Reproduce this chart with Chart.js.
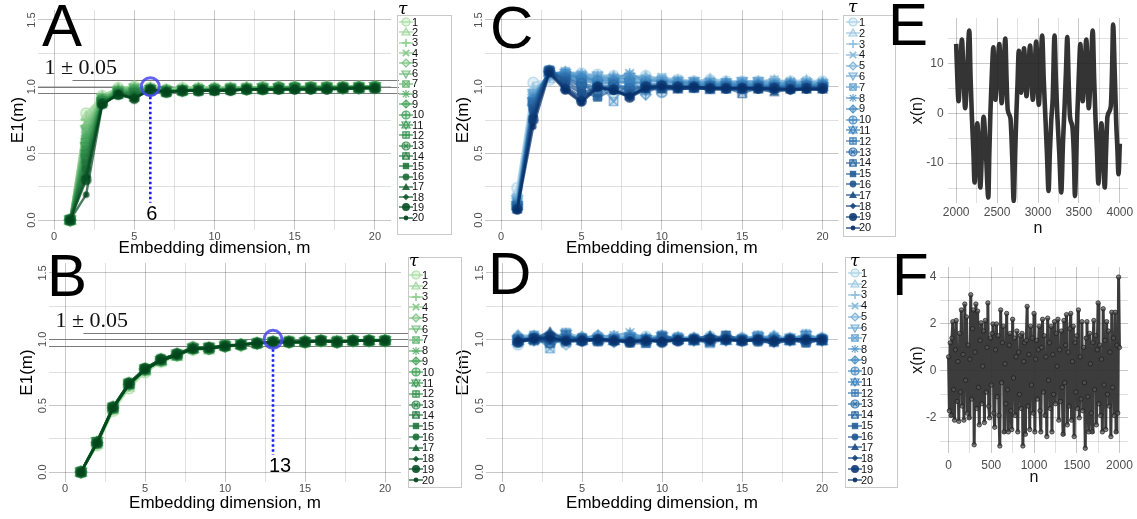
<!DOCTYPE html>
<html>
<head>
<meta charset="utf-8">
<title>E1 / E2 against embedding dimension</title>
<script src="https://cdn.jsdelivr.net/npm/chart.js@4.4.1/dist/chart.umd.min.js"></script>
<style>
  html, body { margin: 0; padding: 0; background: #fff; }
  body { position: relative; width: 1137px; height: 519px; overflow: hidden; font-family: "Liberation Sans", Arial, sans-serif; }
  canvas { position: absolute; }
  .tag { position: absolute; font-size: 60px; line-height: 60px; color: #000; z-index: 6; }
  .legend { position: absolute; border: 1px solid #c9c9c9; background: transparent; box-sizing: border-box; z-index: 3; }
  .legtitle { position: absolute; font-family: "DejaVu Serif", serif; font-style: italic; font-size: 17px; line-height: 17px; z-index: 4; }
  .legrow { position: absolute; font-size: 11px; line-height: 11px; color: #111; z-index: 4; }
  .legkey { z-index: 4; }
</style>
</head>
<body>
<canvas id="chartA" width="400" height="262" style="left:0;top:0"></canvas>
<canvas id="chartB" width="410" height="269" style="left:0;top:250px"></canvas>
<canvas id="chartC" width="395" height="262" style="left:450px;top:0"></canvas>
<canvas id="chartD" width="395" height="269" style="left:450px;top:250px"></canvas>
<canvas id="chartE" width="250" height="245" style="left:895px;top:0"></canvas>
<canvas id="chartF" width="250" height="269" style="left:895px;top:250px"></canvas>
<div class="tag" style="left:42px;top:-4px">A</div>
<div class="tag" style="left:47px;top:246px">B</div>
<div class="tag" style="left:490px;top:-2px">C</div>
<div class="tag" style="left:488px;top:244px">D</div>
<div class="tag" style="left:888px;top:-5px">E</div>
<div class="tag" style="left:892px;top:245px">F</div>
<script>
// embedding dimensions m and delays tau
const dims = [1,2,3,4,5,6,7,8,9,10,11,12,13,14,15,16,17,18,19,20];
const taus = [1,2,3,4,5,6,7,8,9,10,11,12,13,14,15,16,17,18,19,20];
const yTickLabels = [0, 0.5, 1.0, 1.5];
const eYLabels = [-10, 0, 10];
const fYLabels = [-2, 0, 2, 4];
const bandHi = 1.05, bandMid = 1.0, bandLo = 0.95;
const markA = 6, markB = 13;

// panel A: E1(m), one row per tau
const e1A = [
  [0.00,0.80,0.93,0.99,1.00,0.99,0.98,0.99,0.99,0.99,0.99,0.99,1.00,1.00,1.00,1.00,1.00,1.00,1.00,1.00],
  [0.00,0.78,0.93,0.99,1.00,0.99,0.98,0.99,0.99,0.99,0.99,1.00,0.99,1.00,1.00,1.00,1.00,1.00,1.00,1.00],
  [0.00,0.75,0.92,0.98,0.99,0.99,0.98,0.98,0.99,0.99,0.99,0.99,0.99,1.00,0.99,1.00,1.00,1.00,1.00,1.00],
  [0.00,0.73,0.92,0.98,0.99,0.99,0.98,0.98,0.99,0.99,0.99,0.99,0.99,0.99,1.00,1.00,1.00,1.00,1.00,1.00],
  [0.00,0.70,0.91,0.98,0.99,0.99,0.97,0.98,0.98,0.99,0.99,0.99,0.99,0.99,1.00,0.99,1.00,1.00,1.00,1.00],
  [0.00,0.68,0.91,0.97,0.99,0.98,0.97,0.98,0.98,0.98,0.99,0.99,0.99,0.99,0.99,1.00,1.00,0.99,1.00,1.00],
  [0.00,0.66,0.91,0.97,0.98,0.98,0.97,0.98,0.98,0.98,0.99,0.99,0.99,0.99,0.99,0.99,1.00,1.00,1.00,1.00],
  [0.00,0.63,0.90,0.97,0.98,0.98,0.97,0.97,0.98,0.98,0.98,0.99,0.99,0.99,0.99,0.99,0.99,1.00,1.00,1.00],
  [0.00,0.61,0.90,0.96,0.97,0.98,0.97,0.97,0.98,0.98,0.98,0.99,0.99,0.99,0.99,0.99,0.99,0.99,1.00,1.00],
  [0.00,0.58,0.90,0.96,0.97,0.98,0.97,0.97,0.98,0.98,0.98,0.98,0.99,0.99,0.99,0.99,0.99,0.99,0.99,1.00],
  [0.00,0.55,0.89,0.96,0.96,0.98,0.97,0.97,0.98,0.98,0.98,0.98,0.99,0.99,0.99,0.99,0.99,0.99,0.99,1.00],
  [0.00,0.52,0.89,0.95,0.96,0.98,0.96,0.97,0.97,0.98,0.98,0.98,0.98,0.99,0.99,0.99,0.99,0.99,0.99,0.99],
  [0.00,0.49,0.89,0.95,0.95,0.97,0.96,0.97,0.97,0.98,0.98,0.98,0.98,0.99,0.99,0.99,0.99,0.99,0.99,0.99],
  [0.00,0.46,0.88,0.95,0.95,0.97,0.96,0.97,0.97,0.97,0.98,0.98,0.98,0.98,0.99,0.99,0.99,0.99,0.99,0.99],
  [0.00,0.42,0.88,0.94,0.94,0.97,0.96,0.97,0.97,0.97,0.98,0.98,0.98,0.98,0.99,0.99,0.99,0.99,0.99,0.99],
  [0.00,0.38,0.88,0.94,0.93,0.97,0.96,0.97,0.97,0.97,0.98,0.98,0.98,0.98,0.98,0.99,0.99,0.99,0.99,0.99],
  [0.00,0.35,0.87,0.94,0.92,0.97,0.96,0.97,0.97,0.97,0.97,0.98,0.98,0.98,0.98,0.98,0.99,0.99,0.99,0.99],
  [0.00,0.32,0.87,0.94,0.91,0.98,0.96,0.97,0.97,0.97,0.97,0.98,0.98,0.98,0.98,0.98,0.98,0.99,0.99,0.99],
  [0.00,0.30,0.87,0.94,0.91,0.98,0.96,0.97,0.97,0.97,0.97,0.98,0.98,0.98,0.98,0.98,0.98,0.99,0.99,0.99],
  [0.00,0.19,0.86,0.95,0.91,0.98,0.96,0.97,0.97,0.97,0.97,0.98,0.98,0.98,0.98,0.98,0.98,0.98,0.99,0.99]
];

// panel B: E1(m) for the noise series
const e1B = [
  [0.00,0.20,0.46,0.63,0.75,0.83,0.88,0.92,0.93,0.95,0.96,0.97,0.98,0.98,0.98,0.99,0.98,0.99,0.99,0.99],
  [0.00,0.21,0.47,0.64,0.76,0.83,0.87,0.93,0.92,0.95,0.96,0.97,0.97,0.98,0.99,0.98,0.99,0.99,0.99,1.00],
  [0.00,0.22,0.48,0.65,0.76,0.84,0.88,0.92,0.93,0.94,0.96,0.97,0.98,0.98,0.98,0.99,0.98,0.99,0.99,0.99],
  [0.00,0.21,0.47,0.66,0.77,0.85,0.88,0.93,0.93,0.95,0.96,0.96,0.98,0.98,0.98,0.99,0.99,0.99,0.99,0.99],
  [0.00,0.22,0.49,0.65,0.77,0.84,0.89,0.93,0.93,0.95,0.95,0.97,0.98,0.98,0.98,0.99,0.98,0.99,1.00,0.99],
  [0.00,0.23,0.48,0.66,0.78,0.84,0.88,0.94,0.93,0.95,0.96,0.97,0.98,0.98,0.98,0.99,0.98,0.99,0.99,0.99],
  [0.00,0.22,0.48,0.67,0.77,0.85,0.88,0.93,0.94,0.95,0.96,0.97,0.98,0.99,0.98,0.99,0.98,0.99,0.99,0.99],
  [0.00,0.23,0.49,0.66,0.77,0.84,0.89,0.93,0.93,0.95,0.96,0.97,0.98,0.98,0.98,0.99,0.98,0.99,0.99,1.00],
  [0.00,0.22,0.48,0.66,0.78,0.85,0.88,0.94,0.93,0.95,0.96,0.97,0.98,0.98,0.99,0.99,0.98,0.99,0.99,0.99],
  [0.00,0.22,0.48,0.66,0.77,0.84,0.88,0.93,0.93,0.95,0.96,0.97,0.98,0.98,0.98,0.99,0.98,0.99,0.99,0.99],
  [0.00,0.23,0.49,0.67,0.77,0.84,0.89,0.93,0.94,0.95,0.96,0.97,0.98,0.98,0.98,0.99,0.98,0.99,0.99,0.99],
  [0.00,0.22,0.48,0.66,0.78,0.84,0.88,0.93,0.93,0.96,0.96,0.97,0.98,0.98,0.98,0.99,0.99,0.99,0.99,0.99],
  [0.00,0.22,0.49,0.67,0.78,0.85,0.89,0.94,0.93,0.95,0.96,0.97,0.98,0.98,0.98,0.99,0.98,0.99,0.99,0.99],
  [0.00,0.23,0.48,0.66,0.77,0.84,0.88,0.93,0.94,0.95,0.96,0.97,0.98,0.98,0.98,0.99,0.98,0.99,0.99,0.99],
  [0.00,0.22,0.49,0.66,0.78,0.85,0.89,0.93,0.93,0.95,0.96,0.97,0.98,0.98,0.98,0.99,0.98,0.99,0.99,0.99],
  [0.00,0.22,0.48,0.67,0.77,0.84,0.88,0.93,0.93,0.95,0.96,0.97,0.98,0.98,0.98,0.99,0.98,0.99,0.99,0.99],
  [0.00,0.23,0.49,0.66,0.78,0.85,0.89,0.94,0.93,0.95,0.96,0.97,0.98,0.98,0.98,0.99,0.98,0.99,0.99,0.99],
  [0.00,0.22,0.48,0.66,0.77,0.84,0.88,0.93,0.93,0.95,0.96,0.97,0.98,0.98,0.98,0.99,0.98,0.99,0.99,0.99],
  [0.00,0.22,0.49,0.67,0.78,0.85,0.89,0.93,0.94,0.95,0.96,0.97,0.98,0.98,0.98,0.99,0.98,0.99,0.99,0.99],
  [0.00,0.22,0.48,0.66,0.77,0.84,0.88,0.93,0.93,0.95,0.96,0.97,0.98,0.98,0.98,0.99,0.98,0.99,0.99,0.99]
];

// panel C: E2(m) for the chaotic series
const e2C = [
  [0.24,1.03,1.05,1.10,1.10,1.09,1.08,1.08,1.08,1.06,1.05,1.04,1.05,1.04,1.04,1.04,1.04,1.04,1.04,1.04],
  [0.21,0.99,1.06,1.11,1.09,1.08,1.08,1.07,1.08,1.05,1.05,1.04,1.06,1.04,1.03,1.04,1.05,1.04,1.05,1.04],
  [0.19,0.97,1.07,1.11,1.10,1.08,1.07,1.07,1.07,1.06,1.04,1.04,1.05,1.04,1.04,1.04,1.04,1.03,1.04,1.03],
  [0.17,0.95,1.08,1.10,1.09,1.08,1.07,1.08,1.06,1.07,1.05,1.04,1.04,1.03,1.03,1.04,1.05,1.03,1.04,1.03],
  [0.16,0.94,1.08,1.11,1.09,1.07,1.07,1.08,1.06,1.05,1.04,1.03,1.04,1.03,1.03,1.03,1.04,1.03,1.03,1.03],
  [0.15,0.95,1.09,1.10,1.08,1.08,1.06,1.07,1.05,1.04,1.04,1.04,1.03,1.03,1.04,1.04,1.03,1.02,1.03,1.02],
  [0.14,0.93,1.10,1.11,1.08,1.04,0.89,1.05,1.05,1.05,1.04,1.03,1.03,1.02,1.03,1.03,1.02,1.03,1.02,1.02],
  [0.13,0.92,1.10,1.10,1.07,1.06,1.06,1.10,1.04,1.04,1.03,1.03,1.02,1.02,1.02,1.02,1.02,1.02,1.02,1.02],
  [0.12,0.91,1.11,1.09,1.07,1.05,1.05,1.06,0.94,1.03,1.03,1.02,1.02,1.02,1.02,1.02,1.01,1.02,1.01,1.02],
  [0.12,0.90,1.11,1.09,1.06,1.04,1.04,1.04,1.03,0.96,1.02,1.02,1.01,1.02,1.01,1.01,1.01,1.01,1.01,1.01],
  [0.11,0.89,1.11,1.08,1.05,1.02,1.03,1.03,1.02,1.02,1.01,1.01,1.01,1.01,1.01,1.01,1.00,1.01,1.01,1.00],
  [0.11,0.88,1.12,1.07,1.03,0.93,1.02,0.99,1.01,1.01,1.00,1.00,0.98,1.00,1.00,1.00,1.00,1.00,1.00,1.00],
  [0.10,0.87,1.12,1.06,1.02,1.00,1.01,0.98,1.00,1.00,1.00,1.00,1.00,1.00,0.99,1.00,0.99,1.00,1.00,1.00],
  [0.10,0.86,1.12,1.05,1.00,0.99,1.00,0.97,1.00,1.00,0.99,0.99,1.00,0.99,0.95,0.99,0.99,0.99,0.99,0.99],
  [0.09,0.84,1.12,1.04,0.97,0.92,0.98,0.95,0.99,0.99,0.99,0.99,0.99,0.99,0.99,0.99,0.99,0.99,0.99,0.99],
  [0.09,0.82,1.12,1.02,0.95,1.00,0.97,0.94,0.99,0.99,0.99,0.99,0.99,0.98,0.99,0.98,0.98,0.98,0.98,0.98],
  [0.08,0.80,1.12,1.00,0.92,1.00,0.97,0.93,0.98,0.98,0.98,0.99,0.98,0.98,0.98,0.98,0.96,0.98,0.98,0.98],
  [0.08,0.78,1.11,0.99,0.90,1.00,0.97,0.92,0.98,1.00,0.98,0.99,0.98,0.98,0.98,0.98,0.98,0.97,0.98,0.98],
  [0.08,0.75,1.11,0.98,0.89,1.00,0.98,0.92,1.00,1.01,1.00,1.00,0.99,0.99,0.99,0.99,0.99,0.98,0.99,0.99],
  [0.07,0.70,1.10,0.97,0.88,0.99,0.97,0.93,0.99,1.00,0.99,1.00,0.99,0.99,0.99,0.99,0.98,0.98,0.98,0.98]
];

// panel D: E2(m) for the noise series
const e2D = [
  [0.96,1.01,1.03,1.02,1.01,1.02,1.02,1.03,1.02,1.02,1.01,1.01,1.02,1.02,1.01,1.02,1.02,1.01,1.02,1.01],
  [1.03,1.03,1.04,1.03,1.00,1.03,1.01,1.04,1.01,1.02,1.02,1.01,1.01,1.01,1.01,1.01,1.03,1.01,1.03,1.01],
  [1.02,1.02,1.02,1.02,1.01,1.01,1.02,1.03,1.02,1.01,1.01,1.01,1.01,1.02,1.00,1.02,1.01,1.01,1.02,1.00],
  [0.99,1.00,0.99,0.97,1.00,1.00,1.01,1.02,1.00,1.01,1.02,1.00,1.01,1.01,1.00,1.01,1.02,1.00,1.01,1.00],
  [1.03,1.02,1.01,0.96,1.02,0.99,1.02,1.01,1.01,1.03,1.00,1.01,1.02,1.02,1.01,1.00,1.01,1.00,1.02,1.01],
  [1.00,0.99,1.02,1.01,0.99,1.01,1.00,1.02,1.00,1.00,1.01,1.00,1.00,1.00,1.00,1.01,0.98,1.01,1.00,1.00],
  [0.98,1.03,0.93,1.05,1.01,1.00,1.01,1.00,0.97,1.02,1.00,1.00,0.97,1.00,1.00,1.03,1.00,1.00,1.04,1.00],
  [1.01,1.01,1.03,1.00,1.00,1.02,1.03,1.05,1.01,1.01,1.01,1.01,1.01,1.00,1.00,1.01,1.01,1.00,1.00,1.00],
  [1.02,1.00,1.01,1.01,1.01,1.03,0.98,1.03,1.00,1.00,1.00,1.00,1.00,1.01,0.99,1.00,1.02,1.00,1.01,1.00],
  [1.00,1.02,1.00,1.00,1.00,1.00,1.00,1.00,1.00,0.98,1.01,1.00,1.00,1.00,0.99,1.00,0.99,1.00,0.99,1.00],
  [0.99,1.00,1.01,1.04,0.99,1.00,0.99,1.01,1.00,1.02,1.00,0.99,1.00,0.99,0.99,1.02,1.00,0.99,1.03,0.99],
  [1.00,1.01,0.99,0.98,1.00,0.99,1.00,0.99,0.98,1.03,1.00,1.00,0.99,1.00,0.99,1.00,1.00,1.00,1.00,1.00],
  [0.98,1.00,0.98,1.00,1.00,1.00,0.99,1.00,0.99,1.00,0.99,1.00,1.00,1.00,1.00,0.99,1.00,1.00,0.99,1.00],
  [1.00,0.99,0.97,1.03,0.99,0.99,1.00,0.98,1.00,0.99,1.00,0.99,0.98,1.03,0.99,1.00,0.98,0.99,0.98,0.99],
  [0.99,1.01,1.00,1.00,1.01,0.98,0.99,0.97,0.97,1.02,1.00,1.00,0.98,1.03,1.00,0.98,0.98,1.00,0.97,1.00],
  [0.98,1.00,1.01,0.99,0.98,1.00,0.99,0.99,0.99,0.98,1.00,1.00,1.00,1.00,0.99,1.00,0.99,0.99,0.99,0.99],
  [1.00,1.00,1.06,0.99,1.00,0.99,0.99,0.99,0.99,0.99,0.99,1.00,1.03,1.00,0.99,0.99,1.00,1.00,1.00,0.99],
  [0.99,0.99,0.99,0.99,0.99,1.00,1.00,0.97,1.00,0.99,0.99,0.99,0.99,0.99,0.99,0.99,0.97,0.99,0.99,0.99],
  [0.98,1.01,1.02,0.99,0.99,1.00,0.99,0.98,0.99,0.98,0.99,1.00,1.00,1.00,0.99,1.00,0.99,1.00,1.00,1.00],
  [0.99,1.00,1.01,0.99,1.00,1.00,0.99,0.99,0.99,0.99,1.00,1.00,0.99,1.00,0.99,1.00,0.99,1.00,1.00,1.00]
];

// panel E: chaotic series x(n), read at its turning points
const eN = [2000,2012,2029,2048,2070,2090,2110,2135,2160,2176,2192,2210,2225,2242,2258,2278,2295,2315,2335,2365,
  2393,2405,2418,2435,2455,2466,2478,2503,2528,2542,2556,2578,2601,2615,2630,2663,2685,2703,2720,2736,
  2750,2765,2780,2794,2812,2830,2845,2859,2880,2904,2920,2937,2958,2978,2994,3010,3030,3051,3070,3092,
  3110,3129,3145,3162,3180,3202,3218,3235,3260,3284,3305,3325,3342,3358,3375,3391,3420,3438,3452,3468,
  3481,3500,3518,3532,3546,3568,3591,3606,3620,3645,3669,3686,3702,3720,3738,3757,3775,3796,3816,3832,
  3849,3890,3905,3918,3938,3955,3970,3984,4000];
const eX = [13.9,8.0,2.4,8.2,14.8,7.5,1.0,8.5,16.6,7.0,-0.7,-7.5,-13.9,-7.8,-2.0,-8.2,-14.9,-7.6,-0.7,-8.4,
  -16.9,-8.0,0.0,7.5,13.2,7.6,2.7,8.3,13.9,7.4,2.0,8.4,15.0,7.2,0.7,-1.0,-8.8,-17.6,-8.0,0.0,
  6.0,12.5,7.8,4.1,8.3,13.0,7.9,3.4,8.2,13.6,7.7,2.7,8.4,14.4,7.5,1.7,8.5,15.6,6.8,-1.4,
  -8.3,-15.6,-7.8,-1.4,3.0,15.6,7.2,0.0,-8.0,-15.9,-6.0,1.4,8.4,15.3,6.0,-0.7,-2.7,-8.2,-16.6,-8.0,
  0.0,8.0,13.9,7.6,2.4,8.2,14.8,7.5,1.0,8.5,16.6,7.0,-0.7,-7.2,-14.1,-7.8,-2.0,-8.2,-14.9,-7.6,
  -0.7,1.4,8.4,17.8,8.0,-1.4,-7.0,-12.2,-6.1];

// panel F: noise series x(n), every 10th sample
const fStep = 10;
const fX = [0.6,-1.7,1.2,-1.9,1.4,2.1,-0.8,-2.1,0.9,2.15,-1.3,0.4,-2.15,1.6,-0.9,2.6,-1.5,0.7,-2.1,2.85,
  -0.4,2.3,-1.8,1.1,-2.0,0.5,3.25,-1.2,1.8,2.6,-3.15,0.8,2.85,-1.6,2.55,-0.7,-2.3,1.3,2.05,-1.4,
  0.2,1.7,-2.2,2.15,-0.9,1.0,2.9,-1.5,-2.0,1.4,-0.6,1.6,2.0,-1.8,-2.4,0.9,2.0,-1.1,1.5,-1.9,
  -3.2,2.6,-0.5,1.2,1.9,-2.6,0.3,-1.4,2.45,-0.8,-2.6,1.1,1.6,-1.7,-2.5,2.2,-0.3,1.4,-1.9,0.6,
  1.7,-2.6,0.8,-1.0,1.5,-1.6,1.6,-3.2,0.4,1.2,-2.7,1.3,2.75,-1.5,0.7,-2.5,1.9,-0.6,1.4,-1.8,
  2.45,-2.6,0.5,1.3,-1.2,0.9,1.9,-1.7,-2.6,1.0,2.2,-0.9,1.5,-1.9,0.6,-2.8,2.25,-0.4,1.2,-1.6,
  1.9,-2.6,0.7,-1.0,2.1,-1.4,1.6,0.2,2.2,-2.1,0.9,-1.3,1.7,-0.7,-2.7,2.15,-0.5,1.1,2.4,-2.3,
  0.8,-1.5,1.8,2.45,-2.1,0.4,1.9,-2.8,1.2,-0.9,1.5,-1.6,2.6,-2.0,0.6,-1.2,2.1,-1.7,1.0,-0.5,
  -3.3,1.4,2.1,-1.1,-2.6,1.6,0.3,-1.8,-2.6,1.2,2.15,-0.8,1.5,-2.3,0.9,2.9,-1.4,1.1,-1.9,0.5,
  -2.6,2.65,-0.6,1.3,-2.5,2.1,-1.0,1.7,-1.5,0.8,-2.8,2.5,-0.7,1.4,-1.9,2.5,-2.6,1.1,-1.8,4.0,1.0];

const tickGray = '#4d4d4d';
const gridMajor = 'rgba(0,0,0,0.22)';
const gridMinor = 'rgba(0,0,0,0.12)';
const greenStops = ['#a6dba0', '#3f9f58', '#00451c'];
const blueStops = ['#a6cfe6', '#3c86c1', '#08306b'];

Chart.defaults.font.family = '"Liberation Sans", Arial, sans-serif';

function hexRgb(h) {
  return [1, 3, 5].map(i => parseInt(h.slice(i, i + 2), 16));
}
function withAlpha(h, a) {
  const [r, g, b] = hexRgb(h);
  return `rgba(${r},${g},${b},${a})`;
}
function ramp(stops, n) {
  const out = [];
  for (let k = 0; k < n; k++) {
    const t = k / (n - 1) * (stops.length - 1);
    const i = Math.min(Math.floor(t), stops.length - 2);
    const f = t - i;
    const a = hexRgb(stops[i]), b = hexRgb(stops[i + 1]);
    out.push('#' + a.map((v, j) => Math.round(v + (b[j] - v) * f).toString(16).padStart(2, '0')).join(''));
  }
  return out;
}
const greens = ramp(greenStops, taus.length);
const blues = ramp(blueStops, taus.length);

// grid positions for an axis (every line, labelled or not)
function gridAt(from, to, step) {
  const out = [];
  for (let v = from; v <= to + step / 1000; v += step) out.push({value: Math.round(v * 1000) / 1000});
  return out;
}

// R style plotting symbols, pch 1..20
function drawPch(c, pch, x, y, r, col) {
  const soft = col.replace(/[\d.]+\)$/, '0.3)');
  c.save();
  c.lineWidth = 1.2; c.strokeStyle = col; c.fillStyle = col;
  const line = (x1, y1, x2, y2) => { c.beginPath(); c.moveTo(x + x1, y + y1); c.lineTo(x + x2, y + y2); c.stroke(); };
  const shape = pts => { c.beginPath(); pts.forEach((p, i) => i ? c.lineTo(x + p[0], y + p[1]) : c.moveTo(x + p[0], y + p[1])); c.closePath(); };
  const ring = rr => { c.beginPath(); c.arc(x, y, rr, 0, 2 * Math.PI); };
  const hollow = () => { c.fillStyle = soft; c.fill(); c.stroke(); };
  const s = r * 0.8;
  const up = [[0, -r], [r, r * 0.75], [-r, r * 0.75]];
  const down = [[0, r], [r, -r * 0.75], [-r, -r * 0.75]];
  const diamond = [[0, -r], [r, 0], [0, r], [-r, 0]];
  const sq = [[-s, -s], [s, -s], [s, s], [-s, s]];
  switch (pch) {
    case 1: ring(r); hollow(); break;
    case 2: shape(up); hollow(); break;
    case 3: c.lineWidth = 1.8; line(-r, 0, r, 0); line(0, -r, 0, r); break;
    case 4: c.lineWidth = 1.8; line(-s, -s, s, s); line(-s, s, s, -s); break;
    case 5: shape(diamond); hollow(); break;
    case 6: shape(down); hollow(); break;
    case 7: shape(sq); hollow(); line(-s, -s, s, s); line(-s, s, s, -s); break;
    case 8: line(-r, 0, r, 0); line(0, -r, 0, r); line(-s, -s, s, s); line(-s, s, s, -s); break;
    case 9: shape(diamond); hollow(); line(-r, 0, r, 0); line(0, -r, 0, r); break;
    case 10: ring(r); hollow(); line(-r, 0, r, 0); line(0, -r, 0, r); break;
    case 11: shape(up); hollow(); shape(down); c.stroke(); break;
    case 12: shape(sq); hollow(); line(-s, 0, s, 0); line(0, -s, 0, s); break;
    case 13: ring(r); hollow(); line(-s * 0.7, -s * 0.7, s * 0.7, s * 0.7); line(-s * 0.7, s * 0.7, s * 0.7, -s * 0.7); break;
    case 14: shape(sq); hollow(); c.beginPath(); c.moveTo(x - s, y + s); c.lineTo(x, y - s); c.lineTo(x + s, y + s); c.stroke(); break;
    case 15: shape(sq); c.fill(); break;
    case 16: ring(r * 0.85); c.fill(); break;
    case 17: shape(up); c.fill(); break;
    case 18: shape(diamond.map(p => [p[0] * 0.8, p[1] * 0.8])); c.fill(); break;
    case 19: ring(r); c.fill(); break;
    case 20: ring(r * 0.6); c.fill(); break;
  }
  c.restore();
}
function makeMarker(pch, hex, r, alpha) {
  const cv = document.createElement('canvas');
  cv.width = cv.height = Math.ceil(2 * r + 4);
  drawPch(cv.getContext('2d'), pch, cv.width / 2, cv.height / 2, r, withAlpha(hex, alpha));
  return cv;
}

function tauSets(rows, cols) {
  return rows.map((vals, k) => ({
    label: String(taus[k]),
    data: dims.map((m, i) => ({x: m, y: vals[i]})),
    borderColor: withAlpha(cols[k], 0.7),
    borderWidth: 2.4,
    pointStyle: makeMarker(taus[k], cols[k], 5.3, 0.85),
    pointRadius: 4,
    order: taus.length - k
  }));
}

const rotatedYLabels = {
  id: 'rotatedYLabels',
  afterDraw(chart) {
    const {ctx, chartArea, scales: {y}} = chart;
    ctx.save();
    ctx.fillStyle = tickGray;
    ctx.font = '11px "Liberation Sans", Arial, sans-serif';
    ctx.textAlign = 'center';
    ctx.textBaseline = 'middle';
    yTickLabels.forEach(v => {
      ctx.save();
      ctx.translate(chartArea.left - 6.5, y.getPixelForValue(v));
      ctx.rotate(-Math.PI / 2);
      ctx.fillText(v.toFixed(1), 0, 0);
      ctx.restore();
    });
    ctx.restore();
  }
};

// y labels placed a fixed distance left of the first labelled x position
function plainYLabels(values, xRef, offset) {
  return {
    id: 'plainYLabels',
    afterDraw(chart) {
      const {ctx, scales: {x, y}} = chart;
      const right = x.getPixelForValue(xRef) - offset;
      ctx.save();
      ctx.fillStyle = tickGray;
      ctx.font = '12px "Liberation Sans", Arial, sans-serif';
      ctx.textAlign = 'right';
      ctx.textBaseline = 'middle';
      values.forEach(v => ctx.fillText(String(v), right, y.getPixelForValue(v)));
      ctx.restore();
    }
  };
}

function thresholdPlugin(mark) {
  return {
    id: 'threshold',
    beforeDatasetsDraw(chart) {
      const {ctx, chartArea: a, scales: {x, y}} = chart;
      ctx.save();
      ctx.strokeStyle = '#7a7a7a';
      ctx.lineWidth = 1;
      const py = v => Math.round(y.getPixelForValue(v)) + 0.5;
      ctx.beginPath();
      ctx.moveTo(x.getPixelForValue(1.15), py(bandHi)); ctx.lineTo(a.right + 8, py(bandHi));
      ctx.moveTo(a.left, py(bandMid)); ctx.lineTo(a.right + 8, py(bandMid));
      ctx.moveTo(a.left, py(bandLo)); ctx.lineTo(a.right + 8, py(bandLo));
      ctx.stroke();
      ctx.restore();
    },
    afterDatasetsDraw(chart) {
      const {ctx, scales: {x, y}} = chart;
      const cx = x.getPixelForValue(mark), cy = y.getPixelForValue(bandMid);
      ctx.save();
      ctx.strokeStyle = '#1c1cff';
      ctx.lineWidth = 2.6;
      ctx.setLineDash([2.5, 2.5]);
      ctx.beginPath();
      ctx.moveTo(cx, cy + 10);
      ctx.lineTo(cx, y.getPixelForValue(0.13));
      ctx.stroke();
      ctx.setLineDash([]);
      ctx.strokeStyle = 'rgba(72,72,235,0.85)';
      ctx.lineWidth = 3;
      ctx.beginPath();
      ctx.arc(cx, cy, 9, 0, 2 * Math.PI);
      ctx.stroke();
      ctx.fillStyle = '#000';
      ctx.textBaseline = 'middle';
      ctx.font = '20px "Liberation Sans", Arial, sans-serif';
      ctx.fillText(String(mark), cx - 4, y.getPixelForValue(0.045));
      ctx.fillStyle = '#111';
      ctx.font = '22px "Liberation Serif", "DejaVu Serif", serif';
      ctx.fillText('1 \u00b1 0.05', x.getPixelForValue(-0.6), y.getPixelForValue(1.135));
      ctx.restore();
    }
  };
}

function gridStyle(majorStep) {
  return {
    color: c => (c.tick && Math.abs(c.tick.value % majorStep) < 1e-9) ? gridMajor : gridMinor,
    drawTicks: false,
    lineWidth: 1
  };
}

function embedPanel(id, rows, cols, yTitle, geo, extra) {
  return new Chart(document.getElementById(id), {
    type: 'line',
    data: {datasets: tauSets(rows, cols)},
    options: {
      responsive: false,
      animation: false,
      layout: {padding: {left: 0, top: geo.padTop, right: geo.padRight, bottom: 0}},
      plugins: {legend: {display: false}, tooltip: {enabled: false}},
      scales: {
        x: {
          type: 'linear', min: -1, max: 21,
          afterBuildTicks: s => { s.ticks = gridAt(0, 20, 2.5); },
          ticks: {autoSkip: false, maxRotation: 0, padding: geo.xTickPad,
                  color: tickGray, font: {size: 11}, callback: v => (v % 5 === 0 ? String(v) : '')},
          grid: gridStyle(5),
          border: {display: false},
          title: {display: true, text: 'Embedding dimension, m', color: '#000', font: {size: 17},
                  padding: {top: 0, bottom: geo.xTitlePad}},
          afterFit: s => { s.height = geo.xAxisH; }
        },
        y: {
          type: 'linear', min: -0.075, max: 1.575,
          afterBuildTicks: s => { s.ticks = gridAt(0, 1.5, 0.25); },
          ticks: {display: false},
          grid: gridStyle(0.5),
          border: {display: false},
          title: {display: true, text: yTitle, color: '#000', font: {size: 17},
                  padding: {top: geo.yTitlePad, bottom: 0}},
          afterFit: s => { s.width = geo.yAxisW; }
        }
      }
    },
    plugins: [rotatedYLabels].concat(extra || [])
  });
}

embedPanel('chartA', e1A, greens, 'E1(m)',
  {padTop: 10, padRight: 9, xAxisH: 32, xTickPad: 0, xTitlePad: 3.8, yAxisW: 38, yTitlePad: 7.8},
  [thresholdPlugin(markA)]);
embedPanel('chartB', e1B, greens, 'E1(m)',
  {padTop: 13, padRight: 9, xAxisH: 37, xTickPad: 0.5, xTitlePad: 5.8, yAxisW: 49, yTitlePad: 16.8},
  [thresholdPlugin(markB)]);
embedPanel('chartC', e2C, blues, 'E2(m)',
  {padTop: 10, padRight: 6, xAxisH: 32, xTickPad: 0, xTitlePad: 3.8, yAxisW: 35, yTitlePad: 2.8});
embedPanel('chartD', e2D, blues, 'E2(m)',
  {padTop: 13, padRight: 7, xAxisH: 37, xTickPad: 0.5, xTitlePad: 5.8, yAxisW: 36, yTitlePad: 2.8});

function seriesPanel(id, points, ds, geo, yLabels) {
  return new Chart(document.getElementById(id), {
    type: 'line',
    data: {datasets: [Object.assign({data: points}, ds)]},
    options: {
      responsive: false,
      animation: false,
      layout: {padding: {left: 0, top: geo.padTop, right: geo.padRight, bottom: 0}},
      plugins: {legend: {display: false}, tooltip: {enabled: false}},
      scales: {
        x: {
          type: 'linear', min: geo.xMin, max: geo.xMax,
          afterBuildTicks: s => { s.ticks = gridAt(geo.xFirst, geo.xLast, geo.xStep); },
          ticks: {autoSkip: false, maxRotation: 0, padding: geo.xTickPad,
                  color: tickGray, font: {size: 12}, callback: v => (v % (2 * geo.xStep) === 0 ? String(v) : '')},
          grid: gridStyle(2 * geo.xStep),
          border: {display: false},
          title: {display: true, text: 'n', color: '#111', font: {size: 16}, padding: {top: 0, bottom: geo.xTitlePad}},
          afterFit: s => { s.height = geo.xAxisH; }
        },
        y: {
          type: 'linear', min: geo.yMin, max: geo.yMax,
          afterBuildTicks: s => { s.ticks = gridAt(geo.yFirst, geo.yLast, geo.yStep); },
          ticks: {display: false},
          grid: gridStyle(2 * geo.yStep),
          border: {display: false},
          title: {display: true, text: 'x(n)', color: '#111', font: {size: 16}, padding: {top: geo.yTitlePad, bottom: 0}},
          afterFit: s => { s.width = geo.yAxisW; }
        }
      }
    },
    plugins: [plainYLabels(yLabels, geo.xFirst, geo.yLabelOffset)]
  });
}

seriesPanel('chartE', eN.map((n, i) => ({x: n, y: eX[i]})),
  {borderColor: 'rgba(30,30,30,0.9)', borderWidth: 4.6, pointRadius: 0, cubicInterpolationMode: 'monotone'},
  {padTop: 18, padRight: 17, xMin: 1900, xMax: 4100, xFirst: 2000, xLast: 4000, xStep: 250,
   yMin: -18, yMax: 19.1, yFirst: -15, yLast: 15, yStep: 5,
   xAxisH: 42, xTickPad: 2.8, xTitlePad: 6.7, yAxisW: 53, yLabelOffset: 12.5, yTitlePad: 13.4},
  eYLabels);

seriesPanel('chartF', fX.map((v, i) => ({x: i * fStep, y: v})),
  {borderColor: 'rgba(50,50,50,0.95)', borderWidth: 3, pointRadius: 2.2, pointBorderWidth: 0.8,
   pointBorderColor: 'rgba(25,25,25,0.85)', pointBackgroundColor: 'rgba(85,85,85,0.7)'},
  {padTop: 17, padRight: 17, xMin: -100, xMax: 2100, xFirst: 0, xLast: 2000, xStep: 250,
   yMin: -3.5, yMax: 4.43, yFirst: -3, yLast: 4, yStep: 1,
   xAxisH: 66, xTickPad: 5.8, xTitlePad: 31.4, yAxisW: 45, yLabelOffset: 12, yTitlePad: 13.4},
  fYLabels);

// tau legends
function buildLegend(cfg, cols) {
  const box = document.createElement('div');
  box.className = 'legend';
  Object.assign(box.style, {left: cfg.left + 'px', top: cfg.top + 'px', width: cfg.w + 'px', height: cfg.h + 'px'});
  document.body.appendChild(box);
  const t = document.createElement('div');
  t.className = 'legtitle';
  t.textContent = '\u03c4';
  Object.assign(t.style, {left: cfg.titleX + 'px', top: cfg.titleY + 'px'});
  document.body.appendChild(t);
  taus.forEach((tau, k) => {
    const cy = cfg.row0 + k * cfg.step;
    const key = document.createElement('canvas');
    key.className = 'legkey';
    key.width = 14; key.height = 12;
    Object.assign(key.style, {left: (cfg.keyX - 7) + 'px', top: Math.round(cy - 6) + 'px'});
    const kc = key.getContext('2d');
    kc.strokeStyle = withAlpha(cols[k], 0.6);
    kc.lineWidth = 2;
    kc.beginPath(); kc.moveTo(0, 6); kc.lineTo(14, 6); kc.stroke();
    drawPch(kc, tau, 7, 6, 4, withAlpha(cols[k], 0.9));
    document.body.appendChild(key);
    const s = document.createElement('div');
    s.className = 'legrow';
    s.textContent = String(tau);
    Object.assign(s.style, {left: cfg.textX + 'px', top: (cy - 5.4) + 'px'});
    document.body.appendChild(s);
  });
}
buildLegend({left: 397, top: 15, w: 55, h: 220, titleX: 398, titleY: 0, row0: 22, step: 10.3, keyX: 406, textX: 412}, greens);
buildLegend({left: 408, top: 257, w: 54, h: 231, titleX: 409, titleY: 252, row0: 275, step: 10.8, keyX: 416, textX: 422}, greens);
buildLegend({left: 843, top: 15, w: 53, h: 222, titleX: 848, titleY: -2, row0: 22.3, step: 10.8, keyX: 853, textX: 859}, blues);
buildLegend({left: 845, top: 257, w: 53, h: 231, titleX: 850, titleY: 252, row0: 273, step: 10.9, keyX: 855, textX: 861}, blues);
</script>
</body>
</html>
